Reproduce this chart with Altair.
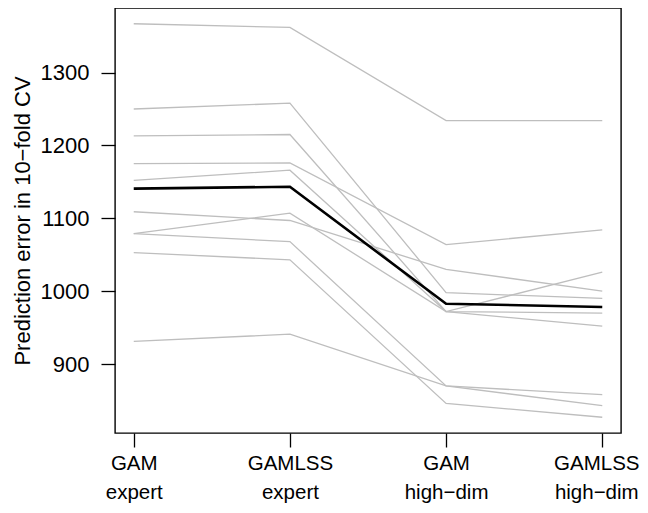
import altair as alt
import pandas as pd

methods = ["GAM\nexpert", "GAMLSS\nexpert", "GAM\nhigh−dim", "GAMLSS\nhigh−dim"]

# prediction error per fold for each method (10 folds)
gam_expert      = [1367, 1250, 1213, 1175, 1152, 1109, 1079, 1079, 1053, 931]
gamlss_expert   = [1362, 1258, 1215, 1176, 1166, 1097, 1107, 1068, 1043, 941]
gam_highdim     = [1234,  998,  972, 1064,  972, 1030,  972,  870,  846, 870]
gamlss_highdim  = [1234,  990,  970, 1084, 1026, 1000,  952,  843,  827, 858]

rows = []
for m, vals in zip(methods, [gam_expert, gamlss_expert, gam_highdim, gamlss_highdim]):
    for i, v in enumerate(vals):
        rows.append({"method": m, "fold": i + 1, "error": v})
df = pd.DataFrame(rows)

FONT = "Liberation Sans"

x_enc = alt.X(
    "method:N",
    sort=methods,
    scale=alt.Scale(type="point", padding=0.12),
    axis=alt.Axis(
        title=None,
        labelExpr="split(datum.label, '\\n')",
        labelLineHeight=29,
        labelAngle=0,
        labelFontSize=20.5,
        labelFont=FONT,
        labelColor="black",
        labelPadding=6,
        labelBound=False,
        labelOffset={"condition": {"test": "datum.index > 0.9", "value": -6}, "value": 0},
        tickSize=14,
        tickColor="black",
        tickWidth=1.3,
        domain=False,
        grid=False,
    ),
)
y_enc = alt.Y(
    "error:Q",
    scale=alt.Scale(domain=[805.4, 1388.6], nice=False, zero=False),
    axis=alt.Axis(
        title="Prediction error in 10−fold CV",
        titleFont=FONT,
        titleFontSize=22,
        titleFontWeight="normal",
        titleColor="black",
        titlePadding=6,
        values=[900, 1000, 1100, 1200, 1300],
        format="d",
        labelFontSize=22,
        labelFont=FONT,
        labelColor="black",
        labelPadding=12,
        tickSize=14,
        tickColor="black",
        tickWidth=1.3,
        domain=False,
        grid=False,
    ),
)

folds = alt.Chart(df).mark_line(color="#BEBEBE", strokeWidth=1.3).encode(
    x=x_enc, y=y_enc, detail="fold:N"
)

mean = alt.Chart(df).transform_aggregate(
    error="mean(error)", groupby=["method"]
).mark_line(color="black", strokeWidth=2.6).encode(x=x_enc, y=y_enc)

chart = (folds + mean).properties(
    width=506,
    height=425,
    autosize=alt.AutoSizeParams(type="none"),
    padding={"left": 107, "top": 0, "right": 19, "bottom": 72},
).configure_view(stroke="black", strokeWidth=1.4)

chart.save("out.html", embed_options={"renderer": "svg", "actions": False})
